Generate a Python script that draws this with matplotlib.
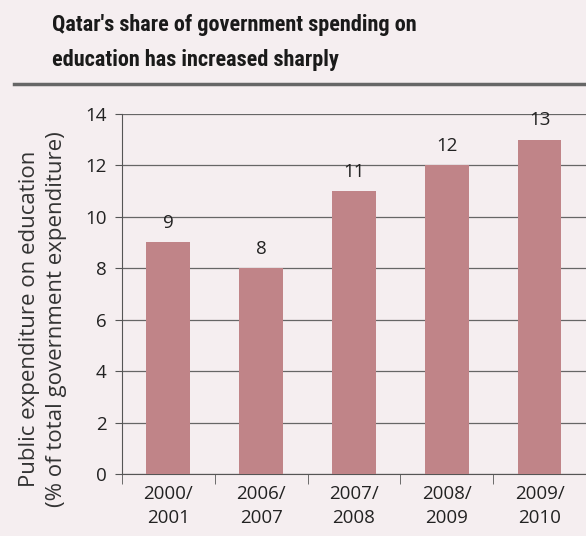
import matplotlib.pyplot as plt
import numpy as np

years = ["2000/\n2001", "2006/\n2007", "2007/\n2008", "2008/\n2009", "2009/\n2010"]
share = [9, 8, 11, 12, 13]

bg = "#F5EEF0"
bar_color = "#C08488"
plt.rcParams['font.family'] = ['Open Sans', 'DejaVu Sans']

fig = plt.figure(figsize=(5.86, 5.36), dpi=100, facecolor=bg)
ax = fig.add_axes([0.208, 0.1157, 0.792, 0.672], facecolor=bg)

x = np.arange(len(share))
ax.bar(x, share, width=0.47, color=bar_color, zorder=3)
for xi, v in zip(x, share):
    ax.text(xi, v + 0.4, str(v), ha='center', va='bottom', fontsize=13.5, color='#222222')

ax.set_ylim(0, 14)
ax.set_xlim(-0.5, len(share) - 0.5)
ax.set_yticks(range(0, 15, 2))
ax.tick_params(axis='y', labelsize=13.5, length=5, color='#555555', colors='#222222', pad=6)
ax.yaxis.grid(True, color='#666666', linewidth=0.9, zorder=0)

ax.set_xticks(x)
ax.set_xticklabels(years, fontsize=13.5, color='#222222', linespacing=1.45)
ax.tick_params(axis='x', length=0, pad=8)
ax.set_xticks(np.arange(-0.5, len(share), 1), minor=True)
ax.tick_params(axis='x', which='minor', length=7, color='#555555')

for s in ['top', 'right']:
    ax.spines[s].set_visible(False)
ax.spines['left'].set_color('#555555')
ax.spines['bottom'].set_color('#555555')

ax.set_ylabel("Public expenditure on education\n(% of total government expenditure)",
              fontsize=16, color='#333333', linespacing=1.4)
ax.yaxis.set_label_coords(-0.118, 0.43)

title_font = ['Roboto Condensed', 'Liberation Sans Narrow', 'Roboto', 'DejaVu Sans']
fig.text(0.089, 0.953, "Qatar's share of government spending on",
         fontsize=16, fontweight='bold', color='#1a1a1a', va='center', family=title_font)
fig.text(0.089, 0.888, "education has increased sharply",
         fontsize=16, fontweight='bold', color='#1a1a1a', va='center', family=title_font)
fig.add_artist(plt.Line2D([0.024, 1.0], [0.843, 0.843], color='#666666', linewidth=2.5,
                          transform=fig.transFigure))

fig.savefig("out.png", dpi=100, facecolor=bg)
